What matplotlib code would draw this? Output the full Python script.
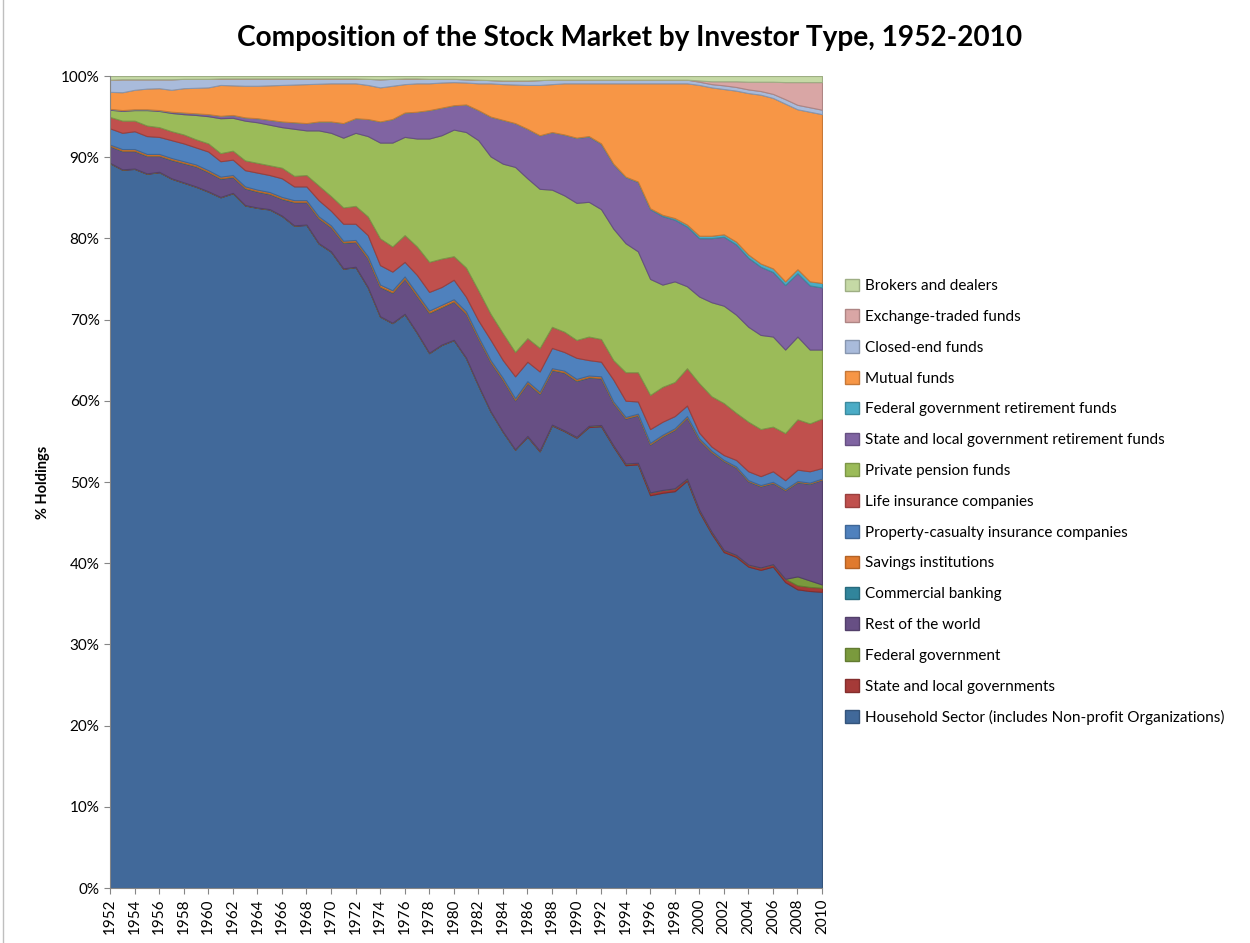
import numpy as np
import matplotlib
matplotlib.use('Agg')
import matplotlib.pyplot as plt
from matplotlib.patches import Patch
from matplotlib.lines import Line2D
from matplotlib.colors import to_rgb

plt.rcParams['font.family'] = ['Lato', 'DejaVu Sans']

years = np.arange(1952, 2011)

# shares of holdings (%), one value per year 1952-2010
household = [89.3, 88.5, 88.6, 88.0, 88.2, 87.4, 86.9, 86.4, 85.8, 85.1,
             85.6, 84.1, 83.8, 83.6, 82.8, 81.6, 81.7, 79.4, 78.4, 76.3,
             76.5, 74.0, 70.4, 69.6, 70.7, 68.4, 65.9, 66.9, 67.5, 65.3,
             61.9, 58.7, 56.2, 54.0, 55.6, 53.8, 57.0, 56.3, 55.5, 56.8,
             56.9, 54.4, 52.1, 52.2, 48.4, 48.7, 48.9, 50.2, 46.4, 43.7,
             41.4, 40.8, 39.6, 39.2, 39.6, 37.7, 36.8, 36.6, 36.5]
state_local_gov = [0.05, 0.05, 0.05, 0.05, 0.05, 0.05, 0.05, 0.05, 0.05, 0.05,
                   0.05, 0.05, 0.05, 0.05, 0.05, 0.05, 0.05, 0.05, 0.05, 0.05,
                   0.05, 0.05, 0.05, 0.05, 0.05, 0.05, 0.05, 0.05, 0.05, 0.05,
                   0.05, 0.05, 0.05, 0.05, 0.1, 0.1, 0.1, 0.1, 0.1, 0.15,
                   0.15, 0.15, 0.2, 0.2, 0.35, 0.35, 0.35, 0.25, 0.25, 0.25,
                   0.25, 0.25, 0.25, 0.3, 0.3, 0.4, 0.5, 0.5, 0.5]
federal_gov = [0, 0, 0, 0, 0, 0, 0, 0, 0, 0,
               0, 0, 0, 0, 0, 0, 0, 0, 0, 0,
               0, 0, 0, 0, 0, 0, 0, 0, 0, 0,
               0, 0, 0, 0, 0, 0, 0, 0, 0, 0,
               0, 0, 0, 0, 0, 0, 0, 0, 0, 0,
               0, 0, 0, 0, 0, 0, 1.1, 0.8, 0.4]
rest_of_world = [2.05, 2.25, 2.15, 2.15, 1.95, 2.25, 2.35, 2.45, 2.35, 2.25,
                 1.95, 2.05, 1.95, 1.85, 2.05, 2.85, 2.75, 3.05, 2.95, 3.15,
                 3.05, 3.5, 3.6, 3.7, 4.3, 4.5, 4.9, 4.6, 4.7, 5.4,
                 5.75, 6.05, 6.35, 6.05, 6.5, 7.0, 6.7, 7.1, 6.9, 5.95,
                 5.75, 5.2, 5.55, 5.85, 5.9, 6.6, 7.2, 7.5, 8.6, 9.8,
                 10.95, 10.75, 10.25, 10.0, 10.0, 10.9, 11.6, 11.9, 12.9]
commercial_banking = [0.05, 0.05, 0.05, 0.05, 0.05, 0.05, 0.05, 0.05, 0.05, 0.05,
                      0.05, 0.05, 0.05, 0.05, 0.05, 0.05, 0.05, 0.05, 0.05, 0.05,
                      0.05, 0.05, 0.05, 0.05, 0.05, 0.05, 0.05, 0.05, 0.05, 0.05,
                      0.05, 0.05, 0.05, 0.05, 0.05, 0.05, 0.05, 0.05, 0.05, 0.05,
                      0.05, 0.05, 0.05, 0.05, 0.05, 0.05, 0.05, 0.05, 0.05, 0.05,
                      0.05, 0.05, 0.05, 0.05, 0.05, 0.05, 0.05, 0.05, 0.05]
savings = [0.15, 0.2, 0.2, 0.2, 0.2, 0.2, 0.2, 0.2, 0.2, 0.2,
           0.2, 0.2, 0.2, 0.2, 0.2, 0.2, 0.2, 0.2, 0.2, 0.2,
           0.2, 0.25, 0.25, 0.25, 0.25, 0.25, 0.25, 0.25, 0.25, 0.25,
           0.2, 0.2, 0.2, 0.2, 0.2, 0.2, 0.2, 0.2, 0.2, 0.2,
           0.2, 0.15, 0.15, 0.15, 0.15, 0.15, 0.15, 0.15, 0.15, 0.15,
           0.1, 0.1, 0.1, 0.1, 0.1, 0.1, 0.1, 0.1, 0.1]
property_casualty = [2.0, 2.0, 2.2, 2.2, 2.1, 2.2, 2.2, 2.1, 2.3, 1.9,
                     1.9, 2.0, 2.1, 2.1, 2.3, 1.7, 1.7, 2.0, 1.8, 2.1,
                     2.0, 2.6, 2.4, 2.3, 1.8, 2.3, 2.3, 2.2, 2.4, 1.8,
                     2.0, 2.5, 2.2, 2.7, 2.4, 2.5, 2.5, 2.3, 2.6, 1.9,
                     1.8, 2.7, 2.0, 1.5, 1.7, 1.6, 1.5, 1.3, 0.7, 0.5,
                     0.6, 0.8, 1.1, 1.1, 1.3, 1.1, 1.4, 1.4, 1.3]
life_insurance = [1.4, 1.5, 1.3, 1.3, 1.2, 1.1, 1.1, 1.0, 1.0, 1.0,
                  1.1, 1.2, 1.2, 1.2, 1.3, 1.3, 1.4, 1.8, 1.8, 2.0,
                  2.2, 2.3, 3.3, 3.1, 3.3, 3.5, 3.7, 3.5, 2.9, 3.6,
                  3.7, 3.2, 3.3, 3.0, 2.9, 2.9, 2.6, 2.5, 2.2, 2.9,
                  2.8, 2.4, 3.5, 3.6, 4.2, 4.3, 4.2, 4.6, 6.1, 6.2,
                  6.4, 5.8, 6.1, 5.8, 5.5, 5.8, 6.2, 5.9, 6.1]
private_pension = [0.9, 1.2, 1.3, 1.9, 2.0, 2.25, 2.5, 3.0, 3.35, 4.3,
                   4.05, 4.9, 5.0, 5.0, 5.0, 5.8, 5.5, 6.8, 7.8, 8.6,
                   9.0, 9.9, 11.8, 12.8, 12.1, 13.3, 15.2, 15.2, 15.6, 16.7,
                   18.5, 19.4, 20.9, 22.8, 19.7, 19.6, 16.9, 16.8, 16.9, 16.6,
                   16.0, 16.2, 15.9, 14.9, 14.3, 12.6, 12.4, 10.1, 10.7, 11.6,
                   12.0, 12.1, 11.7, 11.6, 11.1, 10.3, 10.2, 9.1, 8.5]
state_local_ret = [0.1, 0.1, 0.1, 0.1, 0.1, 0.15, 0.2, 0.2, 0.25, 0.3,
                   0.35, 0.4, 0.5, 0.6, 0.7, 0.8, 0.9, 1.1, 1.4, 1.8,
                   1.8, 2.1, 2.6, 2.9, 3.0, 3.3, 3.5, 3.4, 3.0, 3.4,
                   3.7, 4.9, 5.4, 5.4, 6.1, 6.6, 7.1, 7.5, 8.0, 8.05,
                   8.05, 7.95, 8.15, 8.55, 8.6, 8.45, 7.6, 7.35, 7.2, 7.9,
                   8.5, 8.65, 8.5, 8.4, 7.95, 7.95, 7.8, 7.9, 7.65]
federal_ret = [0, 0, 0, 0, 0, 0, 0, 0, 0, 0,
               0, 0, 0, 0, 0, 0, 0, 0, 0, 0,
               0, 0, 0, 0, 0, 0, 0, 0, 0, 0,
               0, 0, 0, 0, 0, 0, 0, 0, 0.03, 0.05,
               0.05, 0.05, 0.05, 0.05, 0.1, 0.15, 0.2, 0.25, 0.3, 0.3,
               0.3, 0.35, 0.4, 0.4, 0.45, 0.45, 0.5, 0.5, 0.55]
mutual_funds = [2.1, 2.2, 2.4, 2.55, 2.7, 2.7, 3.0, 3.15, 3.3, 3.8,
                3.65, 3.9, 4.0, 4.25, 4.5, 4.65, 4.8, 4.65, 4.7, 4.9,
                4.3, 4.2, 4.2, 4.1, 3.5, 3.5, 3.3, 3.1, 2.85, 2.7,
                3.3, 4.1, 4.4, 4.75, 5.4, 6.2, 5.9, 6.3, 6.7, 6.5,
                7.4, 9.9, 11.5, 12.1, 15.4, 16.2, 16.6, 17.4, 18.6, 18.3,
                17.9, 18.6, 19.9, 20.8, 21.0, 21.9, 19.7, 20.9, 20.8]
closed_end = [1.5, 1.6, 1.3, 1.15, 1.1, 1.3, 1.15, 1.1, 1.05, 0.8,
              0.85, 0.9, 0.9, 0.85, 0.8, 0.75, 0.7, 0.65, 0.6, 0.6,
              0.6, 0.75, 1.0, 0.85, 0.7, 0.6, 0.55, 0.45, 0.4, 0.4,
              0.45, 0.4, 0.45, 0.5, 0.55, 0.6, 0.55, 0.45, 0.45, 0.45,
              0.45, 0.45, 0.45, 0.45, 0.45, 0.45, 0.45, 0.45, 0.4, 0.4,
              0.45, 0.45, 0.45, 0.45, 0.5, 0.55, 0.55, 0.55, 0.55]
etf = [0, 0, 0, 0, 0, 0, 0, 0, 0, 0,
       0, 0, 0, 0, 0, 0, 0, 0, 0, 0,
       0, 0, 0, 0, 0, 0, 0, 0, 0, 0,
       0, 0, 0, 0, 0, 0, 0, 0, 0, 0,
       0, 0, 0, 0, 0, 0, 0, 0, 0.15, 0.35,
       0.5, 0.7, 0.95, 1.15, 1.5, 2.1, 2.8, 3.1, 3.4]
brokers = [0.45, 0.4, 0.4, 0.4, 0.4, 0.4, 0.35, 0.35, 0.35, 0.3,
           0.3, 0.3, 0.3, 0.3, 0.3, 0.3, 0.3, 0.3, 0.3, 0.3,
           0.3, 0.35, 0.4, 0.35, 0.3, 0.3, 0.35, 0.35, 0.35, 0.4,
           0.45, 0.5, 0.55, 0.55, 0.55, 0.5, 0.45, 0.45, 0.45, 0.45,
           0.45, 0.45, 0.45, 0.45, 0.45, 0.45, 0.45, 0.45, 0.55, 0.65,
           0.65, 0.65, 0.7, 0.7, 0.7, 0.75, 0.75, 0.75, 0.75]

# bottom to top
series = [
    ('Household Sector (includes Non-profit Organizations)', household, '#41699A'),
    ('State and local governments', state_local_gov, '#A53A38'),
    ('Federal government', federal_gov, '#7A9A3D'),
    ('Rest of the world', rest_of_world, '#674F84'),
    ('Commercial banking', commercial_banking, '#31859C'),
    ('Savings institutions', savings, '#E07A2E'),
    ('Property-casualty insurance companies', property_casualty, '#4F81BD'),
    ('Life insurance companies', life_insurance, '#C0504D'),
    ('Private pension funds', private_pension, '#9BBB59'),
    ('State and local government retirement funds', state_local_ret, '#8064A2'),
    ('Federal government retirement funds', federal_ret, '#4BACC6'),
    ('Mutual funds', mutual_funds, '#F79646'),
    ('Closed-end funds', closed_end, '#A9BBDB'),
    ('Exchange-traded funds', etf, '#D9A6A5'),
    ('Brokers and dealers', brokers, '#C5D9A5'),
]

values = np.array([s[1] for s in series], dtype=float)
values = values / values.sum(axis=0) * 100  # 100% stacked

fig = plt.figure(figsize=(12.5, 9.43), dpi=100)
ax = fig.add_axes([0.088, 0.0583, 0.5696, 0.8611])

bottom = np.zeros(len(years))
handles = []
for (label, _, color), vals in zip(series, values):
    top = bottom + vals
    edge = tuple(c * 0.8 for c in to_rgb(color))
    ax.fill_between(years, bottom, top, facecolor=color, edgecolor=edge,
                    linewidth=0.8)
    handles.append(Patch(facecolor=color, edgecolor=edge, label=label))
    bottom = top

ax.set_xlim(1952, 2010)
ax.set_ylim(0, 100)
ax.set_xticks(years[::2])
ax.set_xticklabels([str(y) for y in years[::2]], rotation=90)
ax.set_yticks(np.arange(0, 101, 10))
ax.set_yticklabels(['%d%%' % v for v in range(0, 101, 10)])
ax.tick_params(axis='both', labelsize=11, length=4, color='#868686')
for side in ['top', 'right']:
    ax.spines[side].set_visible(False)
for side in ['left', 'bottom']:
    ax.spines[side].set_color('#868686')
ax.set_ylabel('% Holdings', fontsize=10.5, fontweight='bold', labelpad=8)

fig.text(0.504, 0.96, 'Composition of the Stock Market by Investor Type, 1952-2010',
         ha='center', va='center', fontsize=20.2, fontweight='bold')

fig.legend(handles=handles[::-1], loc='center left', bbox_to_anchor=(0.665, 0.468),
           frameon=False, fontsize=11, labelspacing=1.06, handlelength=0.9,
           handleheight=0.9, handletextpad=0.4)

fig.add_artist(Line2D([0.002, 0.002], [0, 1], color='#BFBFBF', linewidth=1))

fig.savefig('out.png', dpi=100)
